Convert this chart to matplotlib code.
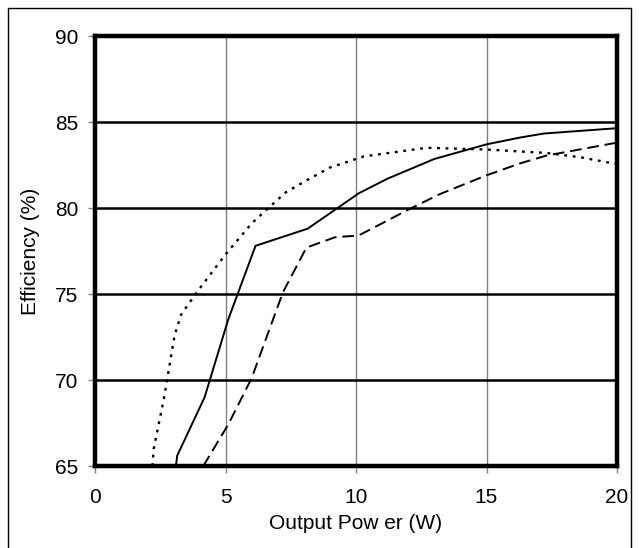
import matplotlib
matplotlib.use("Agg")
import matplotlib.pyplot as plt
from matplotlib.patches import Rectangle

plt.rcParams['font.family'] = ['Liberation Sans', 'DejaVu Sans']

# efficiency curves
solid_x = [3.1, 3.15, 4.2, 5.1, 6.15, 8.15, 9.2, 10.1, 11.2, 13.0, 15.0, 16.3, 17.2, 20.0]
solid_y = [65.0, 65.6, 69.0, 73.5, 77.8, 78.8, 79.9, 80.85, 81.7, 82.85, 83.7, 84.1, 84.33, 84.64]

dotted_x = [2.2, 2.25, 2.65, 3.05, 3.3, 3.9, 5.0, 6.0, 6.5, 7.3, 8.1, 9.0, 10.3, 12.7, 15.0, 17.3, 18.6, 20.0]
dotted_y = [65.0, 66.0, 69.0, 72.6, 73.8, 75.1, 77.3, 79.1, 79.8, 80.9, 81.6, 82.35, 83.0, 83.5, 83.4, 83.2, 82.95, 82.55]

dashed_x = [4.15, 5.1, 6.0, 7.2, 8.1, 9.2, 10.1, 12.0, 13.2, 15.0, 16.3, 17.3, 20.0]
dashed_y = [65.0, 67.4, 70.1, 75.1, 77.7, 78.3, 78.4, 79.9, 80.8, 81.9, 82.6, 83.05, 83.8]

x_ticks = [0, 5, 10, 15, 20]
y_ticks = [65, 70, 75, 80, 85, 90]

fig = plt.figure(figsize=(6.39, 5.48), dpi=100)
ax = fig.add_axes([95 / 639, 1 - 466 / 548, (617 - 95) / 639, (466 - 36) / 548])

ax.plot(solid_x, solid_y, color='black', lw=1.4, solid_joinstyle='miter')
ax.plot(dotted_x, dotted_y, color='black', lw=1.7, linestyle=(0, (1.2, 2.4)))
ax.plot(dashed_x, dashed_y, color='black', lw=1.4, linestyle=(0, (6, 3)))

ax.set_xlim(0, 20)
ax.set_ylim(65, 90)
ax.set_xticks(x_ticks)
ax.set_yticks(y_ticks)

# grey verticals, black horizontals
for xv in x_ticks[1:-1]:
    ax.axvline(xv, color='#808080', lw=1.0, zorder=0)
for yv in y_ticks[1:-1]:
    ax.axhline(yv, color='black', lw=1.8, zorder=0)

for s in ax.spines.values():
    s.set_linewidth(3.2)
    s.set_color('black')

ax.tick_params(axis='both', direction='out', length=5, width=1, color='#808080',
               labelsize=15, pad=7)
ax.tick_params(axis='x', pad=11)

ax.set_xlabel('Output Pow er (W)', fontsize=15, labelpad=5)
ax.set_ylabel('Efficiency (%)', fontsize=15, labelpad=11)

fig.add_artist(Rectangle((8 / 639, -0.02), (631 - 8) / 639, 1.02 - 8 / 548,
                         transform=fig.transFigure, fill=False, lw=1, edgecolor='black'))

fig.savefig('out.png', dpi=100)
